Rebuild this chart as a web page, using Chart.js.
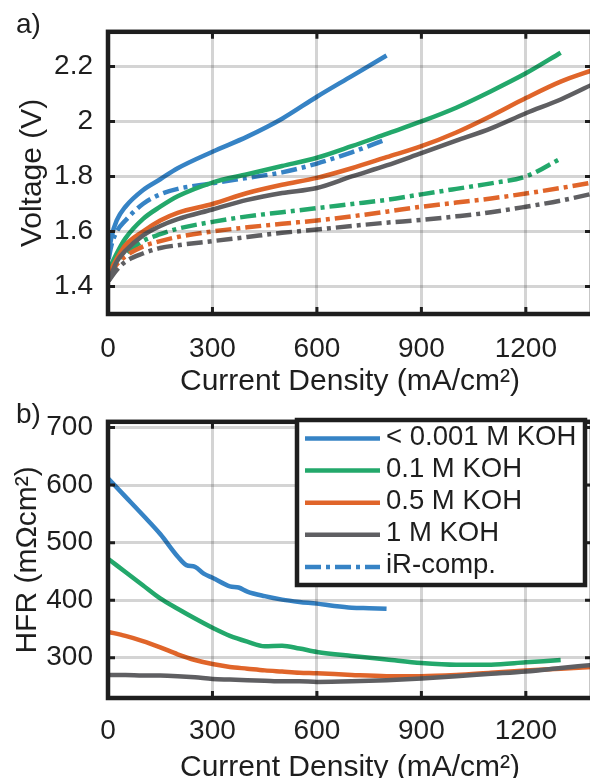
<!DOCTYPE html>
<html>
<head>
<meta charset="utf-8">
<script src="https://cdn.jsdelivr.net/npm/chart.js@4.4.1/dist/chart.umd.min.js"></script>
<style>
  html, body { margin: 0; padding: 0; background: #fff; overflow: hidden; width: 590px; height: 778px; }
  #wrap { position: relative; width: 590px; height: 778px; overflow: hidden; }
  canvas { position: absolute; left: 0; }
  #polChart { top: 0; }
  #hfrChart { top: 390px; }
</style>
</head>
<body>
<div id="wrap">
  <canvas id="polChart" width="600" height="400"></canvas>
  <canvas id="hfrChart" width="600" height="396"></canvas>
</div>
<script>
// series names (legend)
const seriesNames = ['< 0.001 M KOH', '0.1 M KOH', '0.5 M KOH', '1 M KOH'];
const irLabel = 'iR-comp.';

// tick values
const xTicks = [0, 300, 600, 900, 1200];
const voltTicks = [1.4, 1.6, 1.8, 2.0, 2.2];
const hfrTicks = [300, 400, 500, 600, 700];

// a) polarisation curves, current density in mA/cm2
const jPol = [2, 10, 25, 50, 100, 150, 200, 300, 400, 500, 600, 700, 800, 900, 1000, 1100, 1200, 1300, 1400];
const vBlue = [1.52, 1.58, 1.64, 1.69, 1.75, 1.79, 1.83, 1.89, 1.945, 2.01, 2.09, 2.165, 2.24];
const vBlueIR = [1.50, 1.55, 1.60, 1.64, 1.70, 1.735, 1.755, 1.775, 1.795, 1.815, 1.847, 1.888, 1.935];
const vGreen = [1.45, 1.48, 1.52, 1.575, 1.645, 1.69, 1.728, 1.778, 1.808, 1.838, 1.868, 1.91, 1.955, 2.0, 2.05, 2.11, 2.175, 2.25];
const vGreenIR = [1.44, 1.465, 1.49, 1.52, 1.565, 1.59, 1.61, 1.635, 1.655, 1.67, 1.685, 1.70, 1.715, 1.735, 1.755, 1.775, 1.80, 1.865];
const vOrange = [1.44, 1.465, 1.50, 1.55, 1.60, 1.64, 1.668, 1.70, 1.74, 1.77, 1.795, 1.83, 1.87, 1.91, 1.96, 2.02, 2.085, 2.145, 2.19];
const vOrangeIR = [1.44, 1.455, 1.48, 1.51, 1.545, 1.565, 1.58, 1.60, 1.615, 1.628, 1.64, 1.655, 1.672, 1.69, 1.705, 1.72, 1.738, 1.758, 1.78];
const vGray = [1.42, 1.445, 1.49, 1.53, 1.585, 1.62, 1.645, 1.68, 1.715, 1.74, 1.758, 1.80, 1.84, 1.885, 1.93, 1.975, 2.03, 2.08, 2.14];
const vGrayIR = [1.42, 1.435, 1.46, 1.49, 1.52, 1.54, 1.55, 1.565, 1.58, 1.595, 1.607, 1.62, 1.632, 1.642, 1.655, 1.67, 1.69, 1.712, 1.74];

// b) high frequency resistance, mOhm cm2
const jHfrBlue = [0, 50, 100, 150, 200, 225, 250, 275, 300, 350, 375, 400, 450, 500, 550, 600, 650, 700, 750, 800];
const hBlue = [612, 580, 548, 515, 476, 461, 458, 446, 439, 424, 422, 415, 407, 401, 397, 394, 390, 387, 386, 385];
const jHfr = [0, 50, 100, 150, 200, 250, 300, 350, 400, 450, 500, 550, 600, 700, 800, 900, 1000, 1100, 1200, 1300, 1400];
const hGreen = [472, 449, 426, 403, 385, 368, 352, 338, 328, 320, 321, 316, 310, 303, 297, 291, 288, 288, 292, 296];
const hOrange = [345, 338, 329, 318, 306, 296, 289, 284, 281, 278, 276, 274, 273, 270, 268, 268, 270, 274, 278, 281, 284];
const hGray = [270, 270, 269, 269, 268, 266, 263, 262, 261, 260, 259, 259, 258, 259, 261, 264, 268, 272, 276, 282, 288];

const colors = ['#3683c5', '#23a86b', '#e0652a', '#5f5f62'];
const ink = '#1e1e1e';
const gridColor = 'rgba(0,0,0,0.17)';
const family = '"Liberation Sans", Arial, sans-serif';
const tickFont = { family: family, size: 28 };
const titleFont = { family: family, size: 30 };
const dashDot = [16, 5, 4, 5];

function pts(xs, ys) {
    return ys.map((y, i) => ({ x: xs[i], y: y }));
}

function line(label, data, color, idx, dashed) {
    return {
        label: label,
        data: data,
        borderColor: color,
        borderWidth: 4.5,
        borderDash: dashed ? dashDot : [],
        pointRadius: 0,
        cubicInterpolationMode: 'monotone',
        fill: false,
        order: -idx
    };
}

// MATLAB style box: inward ticks, full frame and panel letter
const boxPlugin = {
    id: 'matlabBox',
    afterDraw(chart, args, opts) {
        const { ctx, chartArea: a, scales } = chart;
        ctx.save();
        ctx.strokeStyle = ink;
        ctx.lineWidth = 3;
        ctx.beginPath();
        xTicks.forEach(v => {
            const px = scales.x.getPixelForValue(v);
            ctx.moveTo(px, a.top); ctx.lineTo(px, a.top + 7);
            ctx.moveTo(px, a.bottom); ctx.lineTo(px, a.bottom - 7);
        });
        opts.yTicks.forEach(v => {
            const py = scales.y.getPixelForValue(v);
            ctx.moveTo(a.left, py); ctx.lineTo(a.left + 7, py);
            ctx.moveTo(a.right, py); ctx.lineTo(a.right - 7, py);
        });
        ctx.stroke();
        ctx.lineWidth = 4.5;
        ctx.strokeRect(a.left, a.top, a.right - a.left, a.bottom - a.top);
        ctx.fillStyle = ink;
        ctx.font = '28px ' + family;
        ctx.textBaseline = 'alphabetic';
        ctx.fillText(opts.letter, 16, 33);
        ctx.restore();
    }
};

// boxed legend inside panel b
const boxLegend = {
    id: 'boxLegend',
    afterDraw(chart) {
        const ctx = chart.ctx;
        const left = 297, top = 30, right = 585, bottom = 195;
        ctx.save();
        ctx.fillStyle = '#fff';
        ctx.fillRect(left, top, right - left, bottom - top);
        ctx.strokeStyle = ink;
        ctx.lineWidth = 4.5;
        ctx.strokeRect(left, top, right - left, bottom - top);
        const entries = seriesNames.map((n, i) => ({ text: n, color: colors[i], dash: [] }));
        entries.push({ text: irLabel, color: colors[0], dash: dashDot });
        ctx.font = '27.5px ' + family;
        ctx.textBaseline = 'middle';
        entries.forEach((e, i) => {
            const y = 48.5 + i * 32.1;
            ctx.strokeStyle = e.color;
            ctx.lineWidth = 4.5;
            ctx.setLineDash(e.dash);
            ctx.beginPath();
            ctx.moveTo(305, y); ctx.lineTo(380, y);
            ctx.stroke();
            ctx.setLineDash([]);
            ctx.fillStyle = ink;
            ctx.fillText(e.text, 386, y - 1);
        });
        ctx.restore();
    }
};

function xAxis(height, tickPad) {
    return {
        type: 'linear', min: 0, max: 1390,
        afterBuildTicks: s => { s.ticks = xTicks.map(v => ({ value: v })); },
        afterFit: s => { s.height = height; },
        grid: { color: gridColor, lineWidth: 3, drawTicks: false, z: 1 },
        border: { display: false },
        ticks: { color: ink, font: tickFont, padding: tickPad, maxRotation: 0, autoSkip: false, callback: v => String(v) },
        title: { display: true, text: 'Current Density (mA/cm²)', color: ink, font: titleFont, padding: { top: 0, bottom: 0 } }
    };
}

function yAxis(min, max, ticks, title, titlePad) {
    return {
        type: 'linear', min: min, max: max,
        afterBuildTicks: s => { s.ticks = ticks.map(v => ({ value: v })); },
        afterFit: s => { s.width = 108; },
        grid: { color: gridColor, lineWidth: 3, drawTicks: false, z: 1 },
        border: { display: false },
        ticks: { color: ink, font: tickFont, padding: 15, callback: v => String(+v.toFixed(1)) },
        title: { display: true, text: title, color: ink, font: titleFont, padding: { top: titlePad, bottom: 0 } }
    };
}

const common = {
    responsive: false,
    animation: false,
    events: [],
    devicePixelRatio: 1
};

new Chart(document.getElementById('polChart'), {
    type: 'line',
    data: {
        datasets: [
            line(seriesNames[0], pts(jPol, vBlue), colors[0], 0, false),
            line(seriesNames[0] + ' ' + irLabel, pts(jPol, vBlueIR), colors[0], 1, true),
            line(seriesNames[1], pts(jPol, vGreen), colors[1], 2, false),
            line(seriesNames[1] + ' ' + irLabel, pts(jPol, vGreenIR), colors[1], 3, true),
            line(seriesNames[2], pts(jPol, vOrange), colors[2], 4, false),
            line(seriesNames[2] + ' ' + irLabel, pts(jPol, vOrangeIR), colors[2], 5, true),
            line(seriesNames[3], pts(jPol, vGray), colors[3], 6, false),
            line(seriesNames[3] + ' ' + irLabel, pts(jPol, vGrayIR), colors[3], 7, true)
        ]
    },
    options: Object.assign({}, common, {
        layout: { padding: { top: 22, right: 8, left: 0, bottom: 0 } },
        scales: {
            x: xAxis(86, 18),
            y: yAxis(1.3, 2.326, voltTicks, 'Voltage (V)', 15)
        },
        plugins: {
            legend: { display: false },
            tooltip: { enabled: false },
            matlabBox: { letter: 'a)', yTicks: voltTicks }
        }
    }),
    plugins: [boxPlugin]
});

new Chart(document.getElementById('hfrChart'), {
    type: 'line',
    data: {
        datasets: [
            line(seriesNames[0], pts(jHfrBlue, hBlue), colors[0], 0, false),
            line(seriesNames[1], pts(jHfr, hGreen), colors[1], 1, false),
            line(seriesNames[2], pts(jHfr, hOrange), colors[2], 2, false),
            line(seriesNames[3], pts(jHfr, hGray), colors[3], 3, false)
        ]
    },
    options: Object.assign({}, common, {
        layout: { padding: { top: 15, right: 8, left: 0, bottom: 0 } },
        scales: {
            x: xAxis(88, 16),
            y: yAxis(230, 710, hfrTicks, 'HFR (mΩcm²)', 10)
        },
        plugins: {
            legend: { display: false },
            tooltip: { enabled: false },
            matlabBox: { letter: 'b)', yTicks: hfrTicks }
        }
    }),
    plugins: [boxPlugin, boxLegend]
});
</script>
</body>
</html>
